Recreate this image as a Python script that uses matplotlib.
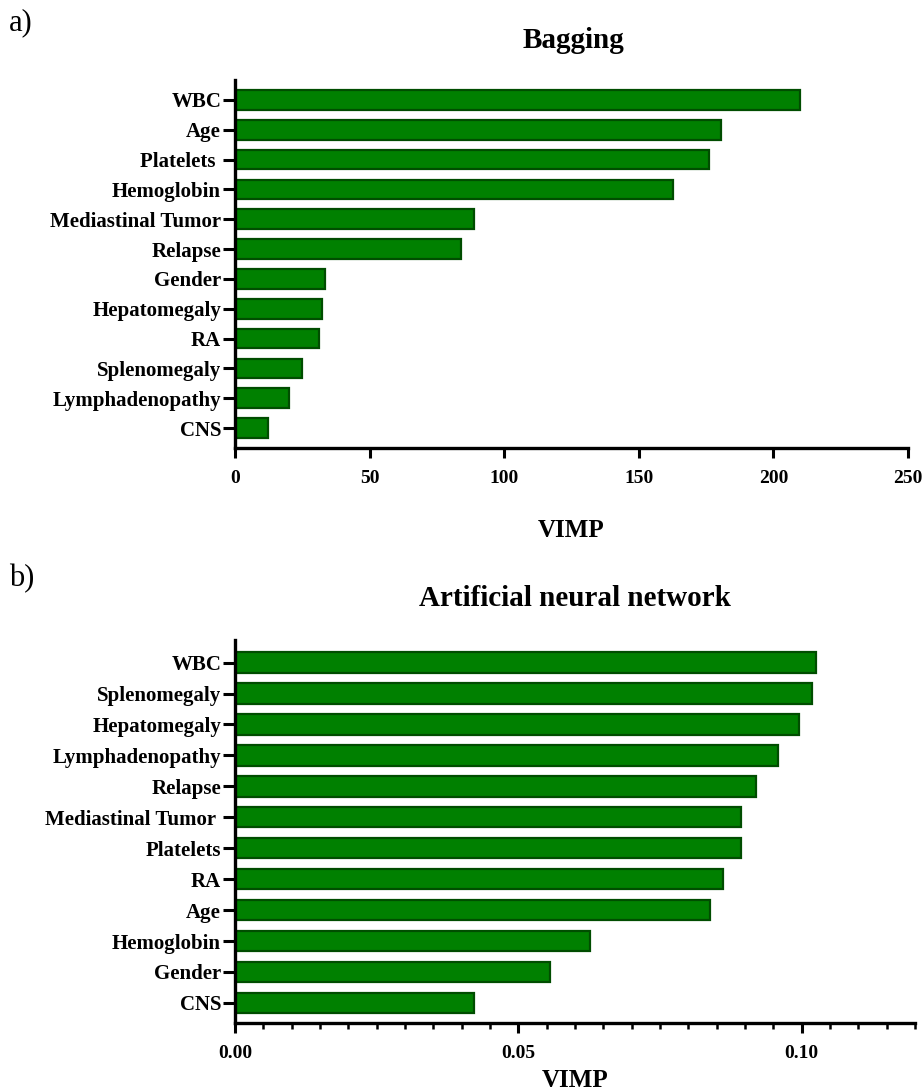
import matplotlib
matplotlib.use("Agg")
import matplotlib.pyplot as plt
from matplotlib.ticker import MultipleLocator

plt.rcParams['font.family'] = ['Liberation Serif', 'DejaVu Serif']

# Variable importance (VIMP) for the bagging model
bag_features = ["WBC", "Age", "Platelets ", "Hemoglobin", "Mediastinal Tumor", "Relapse",
                "Gender", "Hepatomegaly", "RA", "Splenomegaly", "Lymphadenopathy", "CNS"]
bag_vimp = [209.7, 180.7, 176.2, 162.8, 88.6, 84.0, 33.3, 32.2, 31.3, 24.9, 20.1, 12.3]

# Variable importance (VIMP) for the artificial neural network
ann_features = ["WBC", "Splenomegaly", "Hepatomegaly", "Lymphadenopathy", "Relapse",
                "Mediastinal Tumor ", "Platelets", "RA", "Age", "Hemoglobin", "Gender", "CNS"]
ann_vimp = [0.1025, 0.1018, 0.0995, 0.0959, 0.0919, 0.0893, 0.0893, 0.0861, 0.0838,
            0.0626, 0.0556, 0.0422]

W, H = 923, 1092
fig = plt.figure(figsize=(W / 100, H / 100), dpi=100)

FILL = "#008000"
EDGE = "#004d00"


def px_axes(left, top, right, bottom):
    return fig.add_axes([left / W, 1 - bottom / H, (right - left) / W, (bottom - top) / H])


def style(ax, names, values, xlim, ylim, label_y):
    ypos = list(range(len(names)))
    ax.barh(ypos, values, height=0.66, color=FILL, edgecolor=EDGE, linewidth=1.6)
    ax.set_yticks(ypos)
    ax.set_yticklabels(names, fontsize=15, fontweight="bold")
    ax.set_xlim(*xlim)
    ax.set_ylim(*ylim)
    for s in ("top", "right"):
        ax.spines[s].set_visible(False)
    for s in ("left", "bottom"):
        ax.spines[s].set_linewidth(2.4)
    ax.tick_params(axis="y", length=8.5, width=2.2, pad=1.5)
    ax.tick_params(axis="x", which="major", length=7, width=2.2, pad=9, labelsize=14)
    ax.tick_params(axis="x", which="minor", length=4.5, width=1.8)
    for lbl in ax.get_xticklabels():
        lbl.set_fontweight("bold")
    ax.set_xlabel("VIMP", fontsize=18, fontweight="bold", va="center")
    ax.xaxis.set_label_coords(0.5, label_y)


# Panel a: bagging
ax1 = px_axes(235, 80, 908, 448)
ax1.set_xticks([0, 50, 100, 150, 200, 250])
style(ax1, bag_features, bag_vimp, (0, 250), (11.67, -0.67), -0.223)

# Panel b: artificial neural network
ax2 = px_axes(235, 640, 915, 1023)
ax2.set_xticks([0.0, 0.05, 0.10])
ax2.set_xticklabels(["0.00", "0.05", "0.10"])
ax2.xaxis.set_minor_locator(MultipleLocator(0.005))
style(ax2, ann_features, ann_vimp, (0, 0.12), (11.65, -0.73), -0.149)

fig.text(573 / W, 1 - 40 / H, "Bagging", fontsize=21, fontweight="bold",
         ha="center", va="center")
fig.text(575 / W, 1 - 598 / H, "Artificial neural network", fontsize=21,
         fontweight="bold", ha="center", va="center")

fig.text(9 / W, 1 - 23 / H, "a)", fontsize=22, va="center", ha="left")
fig.text(9 / W, 1 - 579 / H, "b)", fontsize=22, va="center", ha="left")

fig.savefig("out.png", dpi=100, facecolor="white")
